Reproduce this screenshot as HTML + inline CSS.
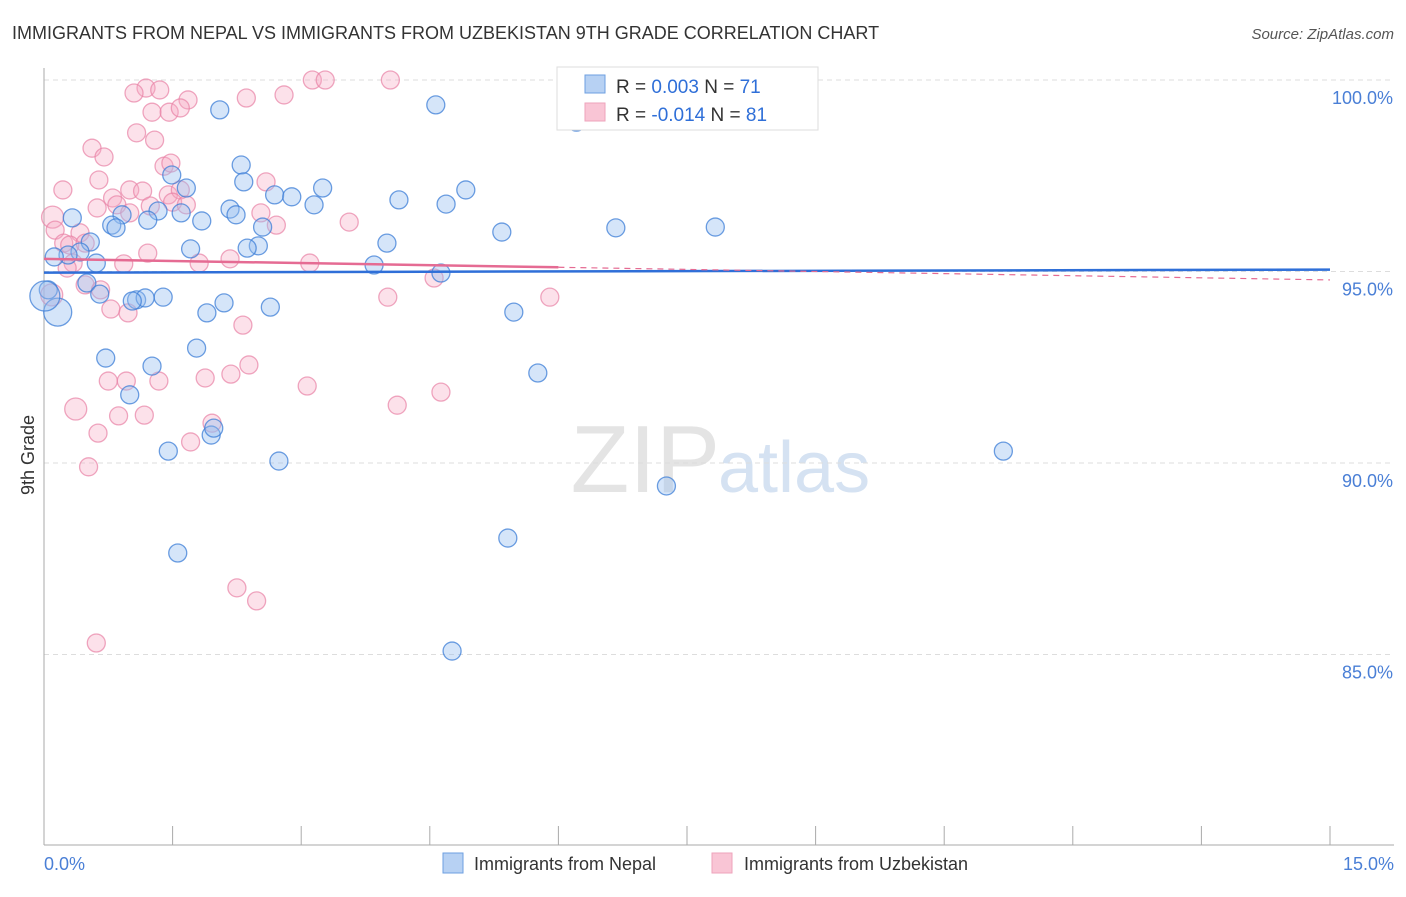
<!DOCTYPE html>
<html><head><meta charset="utf-8"><style>
body{margin:0;background:#fff;font-family:"Liberation Sans",sans-serif}
svg text{font-family:"Liberation Sans",sans-serif}
</style></head><body>
<svg width="1406" height="892" viewBox="0 0 1406 892">
<text x="12" y="39" font-size="18" fill="#333">IMMIGRANTS FROM NEPAL VS IMMIGRANTS FROM UZBEKISTAN 9TH GRADE CORRELATION CHART</text>
<text x="1394" y="39" font-size="15" fill="#555" font-style="italic" text-anchor="end">Source: ZipAtlas.com</text>
<text x="720" y="492" font-size="96" fill="#e4e4e4" text-anchor="end" font-family="Liberation Serif">ZIP</text>
<text x="718" y="492" font-size="72" fill="#d5e2f2">atlas</text>
<g id="grid"></g>
<g id="axes"></g>
<g id="pts"></g>
<g id="trend"></g>
<g>
<rect x="557" y="67" width="261" height="63" fill="#fff" stroke="#ddd"/>
<rect x="585" y="75" width="20" height="18" fill="#b7d1f3" stroke="#6e9fe0"/>
<rect x="585" y="103" width="20" height="18" fill="#f9c5d5" stroke="#eea3bb"/>
<text x="616" y="93" font-size="19" fill="#333">R = <tspan fill="#2f6fd8">0.003</tspan>   N = <tspan fill="#2f6fd8">71</tspan></text>
<text x="616" y="121" font-size="19" fill="#333">R = <tspan fill="#2f6fd8">-0.014</tspan>   N = <tspan fill="#2f6fd8">81</tspan></text>
</g>
<g>
<rect x="443" y="853" width="20" height="20" fill="#b7d1f3" stroke="#6e9fe0"/>
<text x="474" y="870" font-size="18" fill="#333">Immigrants from Nepal</text>
<rect x="712" y="853" width="20" height="20" fill="#f9c5d5" stroke="#eea3bb"/>
<text x="744" y="870" font-size="18" fill="#333">Immigrants from Uzbekistan</text>
</g>
<text x="34" y="455" font-size="18" fill="#333" transform="rotate(-90 34 455)" text-anchor="middle">9th Grade</text>
</svg>
<script>
const yTicks=[100,95,90,85];
const yTickLabels=["100.0%","95.0%","90.0%","85.0%"];
const xTickLabels=["0.0%","15.0%"];
const nepalX=[2.05,4.57,6.21,6.33,6.80,7.20,2.30,2.33,1.66,1.49,3.25,2.69,2.89,3.15,4.14,4.69,4.92,2.17,2.24,1.33,1.60,1.84,1.21,0.91,0.79,0.84,0.33,2.55,2.50,2.37,1.71,4.00,5.34,6.67,7.83,0.54,0.42,0.28,0.12,0.61,3.85,4.63,0.05,0.16,0.50,0.65,1.08,1.18,1.39,1.03,2.10,1.90,2.64,5.48,0.72,1.26,1.78,1.00,5.76,1.95,1.98,1.45,2.74,11.19,7.26,5.41,1.56,4.76,0.01];
const nepalY=[99.22,99.35,98.90,99.74,100,100,97.78,97.34,97.18,97.52,97.18,97.00,96.95,96.74,96.87,96.76,97.13,96.63,96.48,96.58,96.53,96.32,96.34,96.48,96.21,96.14,96.40,96.16,95.67,95.61,95.59,95.74,96.03,96.14,96.16,95.77,95.51,95.43,95.38,95.22,95.17,94.96,94.52,93.94,94.70,94.41,94.26,94.31,94.33,94.23,94.18,93.92,94.07,93.94,92.74,92.53,93.00,91.78,92.35,90.73,90.91,90.31,90.05,90.31,89.40,88.04,87.65,85.09,94.36];
const nepalR=[9,9,9,9,9,9,9,9,9,9,9,9,9,9,9,9,9,9,9,9,9,9,9,9,9,9,9,9,9,9,9,9,9,9,9,9,9,9,9,9,9,9,9,14,9,9,9,9,9,9,9,9,9,9,9,9,9,9,9,9,9,9,9,9,9,9,9,9,15];
const uzX=[1.19,1.35,1.05,1.68,2.36,2.80,3.13,3.28,4.04,1.26,1.46,1.59,1.08,1.29,0.56,0.70,0.22,0.64,0.62,0.80,0.85,1.00,1.00,1.15,1.24,1.40,1.48,1.45,1.59,1.50,1.66,2.59,2.53,2.71,0.10,0.13,0.42,0.23,0.30,0.48,0.34,0.27,0.93,1.21,1.81,2.17,3.10,4.55,0.09,0.48,0.66,0.78,0.98,5.90,4.01,3.56,2.32,2.39,2.18,1.88,0.75,0.96,1.34,3.07,4.63,0.37,0.87,1.17,4.12,1.96,0.63,1.71,0.52,2.25,2.48,0.61];
const uzY=[99.79,99.74,99.66,99.48,99.53,99.61,100,100,100,99.16,99.16,99.27,98.62,98.43,98.22,97.99,97.13,97.39,96.66,96.92,96.74,96.53,97.13,97.10,96.71,97.75,97.83,97.00,97.13,96.81,96.74,97.34,96.53,96.21,96.42,96.08,96.01,95.74,95.69,95.74,95.22,95.09,95.20,95.48,95.22,95.33,95.22,94.83,94.39,94.65,94.52,94.02,93.92,94.33,94.33,96.29,93.60,92.56,92.32,92.22,92.14,92.14,92.14,92.01,91.85,91.41,91.23,91.25,91.51,91.04,90.78,90.55,89.90,86.74,86.40,85.30];
const nepalTrend=[94.97,95.05];
const uzTrend=[95.33,94.78];
const X0=44,X1=1330,Y100=80,PPU=38.3;
const sx=v=>X0+(v/15)*(X1-X0);
const sy=v=>Y100+(100-v)*PPU;
const NS="http://www.w3.org/2000/svg";
function mk(t,a,p){const e=document.createElementNS(NS,t);for(const k in a)e.setAttribute(k,a[k]);p.appendChild(e);return e;}
const grid=document.getElementById('grid'),axes=document.getElementById('axes'),pts=document.getElementById('pts'),tr=document.getElementById('trend');
yTicks.forEach((t,i)=>{
 const l=mk('line',{x1:X0,x2:1394,y1:sy(t),y2:sy(t),stroke:'#ddd','stroke-dasharray':'5,4'},grid);
 
 
 const tx=mk('text',{x:1393,y:sy(t)+24,'font-size':18,fill:'#4a7fd6','text-anchor':'end'},axes);
 tx.textContent=yTickLabels[i];
 
 
});
const ax=mk('line',{x1:X0,x2:X0,y1:68,y2:845,stroke:'#aaa'},axes);


const bx=mk('line',{x1:X0,x2:1394,y1:845,y2:845,stroke:'#aaa'},axes);


for(let i=0;i<=10;i++){const x=sx(i*1.5);const t=mk('line',{x1:x,x2:x,y1:826,y2:845,stroke:'#aaa'},axes);
 
 }
[[0,'start',44],[15,'end',1394]].forEach((d,i)=>{const t=mk('text',{x:d[2],y:870,'font-size':18,fill:'#4a7fd6','text-anchor':d[1]},axes);t.textContent=xTickLabels[i];
 
 });
uzX.forEach((x,i)=>{const c=mk('circle',{cx:sx(x),cy:sy(uzY[i]),r:(i==34||i==48||i==65)?11:9,fill:'rgba(246,170,195,0.35)',stroke:'rgba(232,130,165,0.7)','stroke-width':1.3},pts);
 
 });
nepalX.forEach((x,i)=>{const c=mk('circle',{cx:sx(x),cy:sy(nepalY[i]),r:nepalR[i],fill:'rgba(150,190,240,0.4)',stroke:'rgba(60,125,215,0.75)','stroke-width':1.3},pts);
 
 });
const nl=mk('line',{x1:sx(0),x2:sx(15),y1:sy(nepalTrend[0]),y2:sy(nepalTrend[1]),stroke:'#2f6fd8','stroke-width':2.5},tr);


const xm=6,ym=uzTrend[0]+(uzTrend[1]-uzTrend[0])*xm/15;
const ul=mk('line',{x1:sx(0),x2:sx(xm),y1:sy(uzTrend[0]),y2:sy(ym),stroke:'#e56b93','stroke-width':2.5},tr);


const ud=mk('line',{x1:sx(xm),x2:sx(15),y1:sy(ym),y2:sy(uzTrend[1]),stroke:'#e56b93','stroke-width':1.2,'stroke-dasharray':'6,5'},tr);


</script>
</body></html>
